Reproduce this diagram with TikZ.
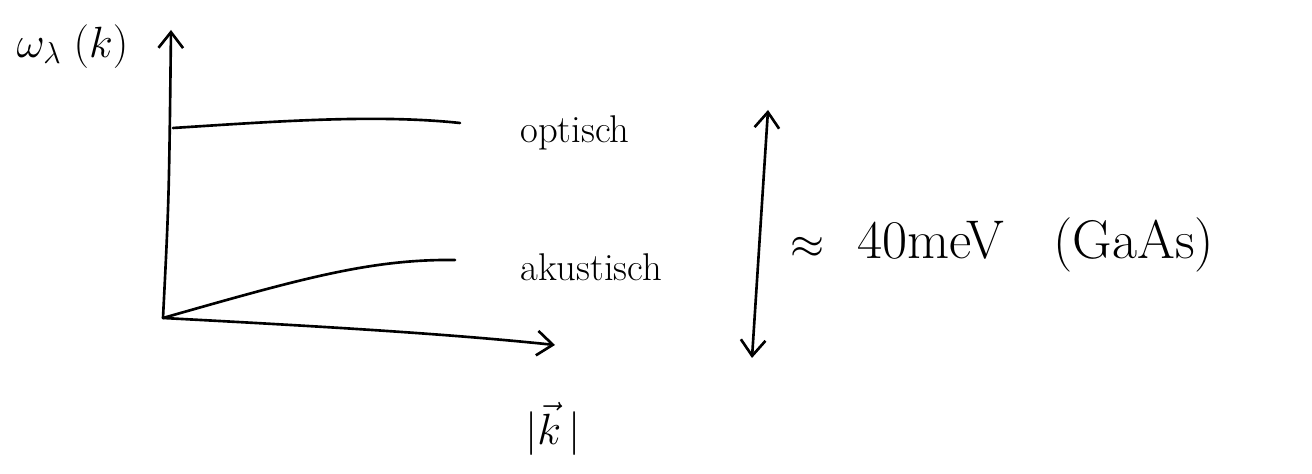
\documentclass[tikz,border=0pt]{standalone}
\usetikzlibrary{positioning,arrows.meta,calc}

\tikzset{
    pen/.style={line width=1.5pt, line cap=round, line join=round},
    barb/.style={-{Straight Barb[length=9pt,width=14pt,line width=1.5pt]}},
    hand/.style={font=\fontsize{22}{26}\selectfont, inner sep=0pt}
}

\begin{document}
\begin{tikzpicture}
\useasboundingbox (0,0) rectangle (26.24,9.48);

% Axes
\coordinate (origin) at (3.26,3.12);
\coordinate (ytop) at (3.42,8.88);
\coordinate (xend) at (11.1,2.58);
\draw[pen, barb] (origin) .. controls (3.38,5.5) .. (ytop);
\draw[pen, barb] (origin) .. controls (6.5,2.95) and (9,2.8) .. (xend);

% Branches
\coordinate (optstart) at (3.46,6.92);
\coordinate (optend) at (9.2,7.02);
\coordinate (akustart) at (3.26,3.12);
\coordinate (akuend) at (9.1,4.28);
\draw[pen] (optstart) .. controls (5.5,7.05) and (7.5,7.2) .. (optend);
\draw[pen] (akustart) .. controls (6,3.9) and (7.4,4.3) .. (akuend);

% Labels
\node[hand, right=1.2cm of optend, yshift=-0.2cm] (optlbl) {optisch};
\node[hand, right=1.3cm of akuend, yshift=-0.15cm] (akulbl) {akustisch};
\node[hand, font=\fontsize{24}{28}\selectfont] (omega) at (1.45,8.55) {$\omega_\lambda\;(k)$};
\node[hand, font=\fontsize{24}{28}\selectfont] (kabs) at (11.06,0.9) {$\Bigl|\vec{k}\,\Bigr|$};

% Energy range
\coordinate (etop) at (15.36,7.28);
\coordinate (ebot) at (15.04,2.32);
\draw[pen, {Straight Barb[length=9pt,width=14pt,line width=1.5pt]}-{Straight Barb[length=9pt,width=14pt,line width=1.5pt]}] (ebot) -- (etop);
\node[hand, font=\fontsize{31}{36}\selectfont, anchor=west] (gap) at (15.8,4.58) {$\approx$\hspace{0.6em}40meV\hspace{0.9em}(GaAs)};
\end{tikzpicture}
\end{document}
